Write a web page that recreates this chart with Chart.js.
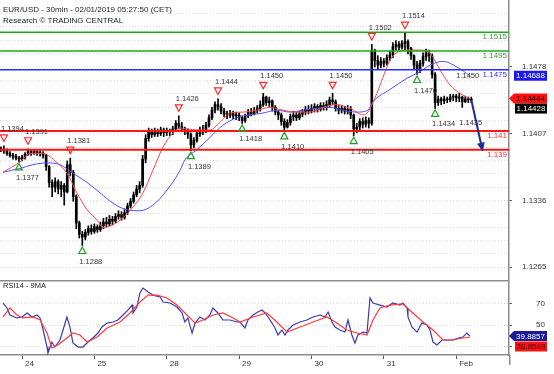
<!DOCTYPE html>
<html>
<head>
<meta charset="utf-8">
<script src="https://cdn.jsdelivr.net/npm/chart.js@4.4.1/dist/chart.umd.min.js"></script>
<style>
  html, body { margin: 0; padding: 0; background: #fff; }
  #wrap { position: relative; width: 554px; height: 374px; overflow: hidden; }
  #main { position: absolute; left: 0; top: 0; }
  #rsi { position: absolute; left: 0; top: 280px; }
</style>
</head>
<body>
<div id="wrap">
  <canvas id="main" width="554" height="280"></canvas>
  <canvas id="rsi" width="554" height="94"></canvas>
</div>
<script>
// x axis: trading hours counted from 24 Jan 00:00 (weekend skipped)
const dayTicks = [0, 24, 48, 72, 96, 120, 144];
const dayLabels = ['24', '25', '28', '29', '30', '31', 'Feb'];
const hourMin = -7.3, hourMax = 161.5;

// price axis
const priceTicks = [1.1265, 1.1336, 1.1407, 1.1478];
const priceGridStep = 0.00142;
const priceMin = 1.12513, priceMax = 1.15493;

// rsi axis
const rsiTicks = [30, 50, 70];
const rsiMin = 22.35, rsiMax = 91.5;

// hourly candles, first one at hour -7
const firstHour = -7;
const firstOpen = 1.1391;
const closes = [
  1.1390,1.1389,1.1386,1.1384,1.1383,1.1381,1.1380,1.1382,1.1385,1.1388,
  1.1387,1.1388,1.1387,1.1386,1.1384,1.1372,1.1355,1.1350,1.1356,1.1348,
  1.1352,1.1345,1.1374,1.1366,1.1340,1.1312,1.1300,1.1297,1.1302,1.1306,
  1.1303,1.1308,1.1305,1.1309,1.1313,1.1311,1.1316,1.1314,1.1319,1.1321,
  1.1318,1.1323,1.1330,1.1335,1.1342,1.1348,1.1352,1.1380,1.1402,1.1409,
  1.1406,1.1410,1.1407,1.1411,1.1408,1.1410,1.1409,1.1412,1.1418,1.1415,
  1.1412,1.1410,1.1406,1.1395,1.1400,1.1407,1.1411,1.1410,1.1416,1.1424,
  1.1432,1.1438,1.1436,1.1431,1.1428,1.1427,1.1429,1.1426,1.1427,1.1424,
  1.1421,1.1426,1.1430,1.1428,1.1432,1.1434,1.1438,1.1446,1.1440,1.1442,
  1.1435,1.1430,1.1427,1.1420,1.1414,1.1419,1.1425,1.1427,1.1424,1.1428,
  1.1430,1.1433,1.1431,1.1434,1.1436,1.1433,1.1437,1.1435,1.1438,1.1443,
  1.1441,1.1434,1.1432,1.1434,1.1431,1.1433,1.1427,1.1412,1.1414,1.1420,
  1.1417,1.1421,1.1418,1.1495,1.1485,1.1480,1.1484,1.1482,1.1488,1.1491,
  1.1500,1.1502,1.1499,1.1503,1.1505,1.1498,1.1490,1.1480,1.1475,1.1482,
  1.1489,1.1493,1.1490,1.1470,1.1440,1.1444,1.1442,1.1444,1.1443,1.1446,
  1.1447,1.1445,1.1446,1.1441,1.1444,1.1443,1.14428
];
const highs = [
  1.1393,1.1394,1.1391,1.1388,1.1386,1.1385,1.1383,1.1384,1.1387,1.1391,
  1.1390,1.1390,1.1389,1.1389,1.1388,1.1385,1.1373,1.1358,1.1360,1.1358,
  1.1356,1.1354,1.1378,1.1381,1.1368,1.1342,1.1314,1.1303,1.1305,1.1309,
  1.1310,1.1311,1.1310,1.1313,1.1317,1.1318,1.1320,1.1319,1.1322,1.1325,
  1.1324,1.1327,1.1333,1.1338,1.1345,1.1352,1.1356,1.1384,1.1406,1.1413,
  1.1412,1.1413,1.1412,1.1414,1.1413,1.1413,1.1412,1.1415,1.1421,1.1426,
  1.1419,1.1414,1.1412,1.1408,1.1403,1.1410,1.1414,1.1416,1.1419,1.1427,
  1.1435,1.1441,1.1444,1.1439,1.1434,1.1431,1.1432,1.1431,1.1430,1.1429,
  1.1426,1.1428,1.1433,1.1434,1.1435,1.1437,1.1442,1.1450,1.1447,1.1446,
  1.1443,1.1437,1.1432,1.1429,1.1423,1.1422,1.1428,1.1431,1.1430,1.1431,
  1.1433,1.1436,1.1437,1.1438,1.1439,1.1438,1.1440,1.1440,1.1442,1.1446,
  1.1450,1.1443,1.1437,1.1437,1.1436,1.1437,1.1436,1.1428,1.1418,1.1423,
  1.1424,1.1425,1.1424,1.1502,1.1497,1.1490,1.1488,1.1487,1.1491,1.1495,
  1.1504,1.1506,1.1505,1.1506,1.1514,1.1507,1.1499,1.1491,1.1484,1.1485,
  1.1493,1.1497,1.1496,1.1492,1.1472,1.1447,1.1446,1.1447,1.1446,1.1449,
  1.1449,1.1449,1.1450,1.1447,1.1447,1.1446,1.1446
];
const lows = [
  1.1388,1.1386,1.1384,1.1382,1.1380,1.1379,1.1377,1.1378,1.1380,1.1384,
  1.1384,1.1385,1.1384,1.1383,1.1381,1.1368,1.1350,1.1340,1.1345,1.1343,
  1.1340,1.1331,1.1344,1.1362,1.1335,1.1306,1.1296,1.1288,1.1294,1.1299,
  1.1300,1.1301,1.1302,1.1303,1.1306,1.1308,1.1309,1.1310,1.1312,1.1316,
  1.1315,1.1316,1.1321,1.1328,1.1333,1.1340,1.1344,1.1350,1.1376,1.1399,
  1.1403,1.1404,1.1404,1.1405,1.1404,1.1405,1.1405,1.1406,1.1410,1.1412,
  1.1409,1.1406,1.1402,1.1389,1.1392,1.1398,1.1404,1.1406,1.1408,1.1414,
  1.1422,1.1429,1.1432,1.1428,1.1425,1.1423,1.1424,1.1423,1.1422,1.1421,
  1.1418,1.1419,1.1424,1.1426,1.1427,1.1429,1.1431,1.1436,1.1437,1.1436,
  1.1431,1.1427,1.1422,1.1416,1.1410,1.1413,1.1416,1.1421,1.1421,1.1422,
  1.1425,1.1427,1.1428,1.1429,1.1430,1.1430,1.1431,1.1432,1.1432,1.1435,
  1.1438,1.1431,1.1428,1.1429,1.1428,1.1428,1.1423,1.1405,1.1408,1.1411,
  1.1413,1.1414,1.1413,1.1416,1.1478,1.1476,1.1477,1.1478,1.1480,1.1485,
  1.1488,1.1496,1.1496,1.1497,1.1496,1.1492,1.1486,1.1476,1.1470,1.1472,
  1.1479,1.1485,1.1484,1.1466,1.1434,1.1437,1.1438,1.1439,1.1440,1.1441,
  1.1442,1.1441,1.1441,1.1435,1.1440,1.1440,1.1440
];

// moving averages on price
const redMaHours = [-6.3,-0.7,2.7,7.0,11.6,14.9,18.2,21.6,24.9,26.9,32.5,36.8,40.1,43.4,46.8,50.1,52.4,58.0,62.3,65.6,69.0,73.3,77.9,82.2,86.5,91.2,95.5,99.8,104.4,108.8,113.1,114.7,117.7,119.7,122.0,124.7,128.6,132.0,134.3,136.3,138.6,141.9,145.2,148.5];
const redMaValues = [1.1366,1.1377,1.1386,1.1386,1.1376,1.1365,1.1344,1.1326,1.1315,1.1307,1.1315,1.1329,1.1344,1.1368,1.1393,1.1408,1.1413,1.1411,1.1411,1.1419,1.1429,1.1430,1.1432,1.1435,1.1432,1.1430,1.1430,1.1435,1.1438,1.1434,1.1427,1.1430,1.1450,1.1467,1.1485,1.1494,1.1496,1.1496,1.1495,1.1488,1.1475,1.1459,1.1450,1.14444];
const blueMaHours = [-6.3,-0.7,3.6,8.3,12.6,16.9,21.6,25.9,30.2,34.8,39.1,43.4,48.1,52.4,54.0,58.0,62.3,66.6,71.3,75.6,79.9,84.5,88.9,93.2,97.8,102.1,106.4,111.1,114.7,116.4,122.0,127.7,132.0,135.3,139.6,144.2,148.5];
const blueMaValues = [1.1366,1.1370,1.1374,1.1376,1.1374,1.1365,1.1355,1.1344,1.1333,1.1326,1.1325,1.1331,1.1347,1.1368,1.1379,1.1390,1.1403,1.1416,1.1424,1.1427,1.1429,1.1432,1.1430,1.1432,1.1434,1.1435,1.1432,1.1430,1.1432,1.1441,1.1454,1.1466,1.1473,1.1480,1.1484,1.1478,1.14688];

// key levels
const levelPrices = [1.1515, 1.1495, 1.1475, 1.141, 1.139];
const levelLabels = ['1.1515', '1.1495', '1.1475', '1.141', '1.139'];
const levelKinds = ['green', 'green', 'blue', 'red', 'red'];

// swing highs / lows (H/L with marker, h/l text only)
const pivotHours = [-6, 2, -1, 16, 20, 52, 56, 65, 73, 80, 87, 103, 110, 116, 127, 131, 137, 145, 146];
const pivotPrices = [1.1394,1.1391,1.1377,1.1381,1.1288,1.1426,1.1389,1.1444,1.1418,1.1450,1.1410,1.1450,1.1405,1.1502,1.1514,1.1470,1.1434,1.1450,1.1435];
const pivotKinds = ['H','H','L','H','L','H','L','H','L','H','L','H','L','H','H','L','L','h','l'];

// projected move
const projHours = [149, 152.8];
const projPrices = [1.14428, 1.1388];

// RSI14 and its 9MA
const rsiHours = [-6.3,-5.0,-4.0,-1.7,0,1.7,3.3,5.0,6.0,7.0,8.3,8.6,9.9,10.9,12.6,13.6,14.9,15.9,16.9,18.6,20.2,21.9,23.5,25.2,26.5,28.2,30.2,31.8,33.5,35.1,36.5,36.8,38.1,39.1,40.1,41.8,43.4,45.8,46.8,49.1,51.4,53.1,54.0,55.0,56.4,57.4,59.0,60.7,62.3,63.3,65.0,66.6,69.0,71.3,72.3,73.9,74.9,76.6,78.2,79.6,80.6,81.6,82.9,83.9,84.9,86.2,87.2,88.2,89.9,92.2,94.5,96.5,98.8,100.5,101.5,102.8,103.8,105.4,107.1,108.1,109.4,110.4,111.4,113.1,114.4,115.4,116.4,118.7,121.0,123.0,125.3,126.3,127.7,128.0,129.3,131.0,132.6,134.3,135.3,136.3,137.6,139.3,140.9,142.9,144.6,146.2,147.5,148.5];
const rsiValues = [70.3,65.7,59.2,56.5,57.4,61.1,57.4,59.2,56.5,45.4,29.7,24.2,34.3,29.7,36.2,45.4,57.4,48.2,33.4,29.7,29.7,34.3,38.0,42.6,48.2,51.8,52.8,54.6,59.2,63.8,68.4,61.1,66.6,79.5,84.1,80.4,77.6,75.8,71.2,70.3,66.6,61.1,52.8,56.5,42.6,51.8,57.4,54.6,59.2,65.7,61.1,54.6,54.6,52.8,52.8,47.2,54.6,59.2,62.0,63.8,61.1,57.4,51.8,47.2,40.8,45.4,40.8,45.4,50.0,52.8,54.6,57.4,59.2,57.4,62.0,52.8,48.2,45.4,43.5,54.6,40.8,33.4,40.8,43.5,42.6,74.9,70.3,68.4,66.6,70.3,68.4,70.3,65.7,57.4,48.2,43.5,51.8,50.0,45.4,34.3,31.6,36.2,36.2,36.2,38.0,38.9,42.6,39.8857];
const rsiMaHours = [-6.3,-4.0,-1.7,0.3,3.6,6.0,8.3,9.9,11.9,14.9,16.9,19.2,21.6,24.9,28.2,32.5,35.8,39.1,41.8,44.8,48.1,51.4,54.7,57.4,60.0,63.3,66.6,70.0,72.3,76.6,81.2,84.5,87.9,92.2,96.5,101.1,104.4,107.7,111.1,114.4,116.4,118.7,122.0,126.3,129.6,133.0,136.3,139.6,142.9,146.2,148.5];
const rsiMaValues = [57.4,65.7,59.2,56.5,57.4,54.6,42.6,28.8,31.6,38.0,42.6,40.8,34.3,38.9,47.2,52.8,61.1,71.2,77.6,77.6,74.9,68.4,59.2,51.8,54.6,59.2,61.1,56.5,52.8,57.4,61.1,52.8,43.5,48.2,52.8,57.4,51.8,45.4,42.6,40.8,54.6,65.7,68.4,69.4,61.1,52.8,45.4,36.2,36.2,38.0,38.8549];

const FONT = "'Liberation Sans', Arial, sans-serif";
Chart.defaults.font.family = FONT;
Chart.defaults.font.size = 8;
Chart.defaults.color = '#333';

const levelStyle = {
  green: {line: '#1ea81e', text: '#3f9a3f', width: 1.5},
  blue: {line: '#2b2bff', text: '#3333ee', width: 1.6},
  red: {line: '#ff1414', text: '#ff3030', width: 2}
};

const opens = [firstOpen].concat(closes.slice(0, -1));
const hours = closes.map((c, i) => firstHour + i);
const pts = (xs, ys) => xs.map((x, i) => ({x: x, y: ys[i]}));

function isMajor(v){
  return priceTicks.some(p => Math.abs(p - v) < 1e-7);
}

function box(ctx, x0, x1, cy, fill, color, text, arrow){
  const h = 10;
  ctx.beginPath();
  if(arrow){
    ctx.moveTo(x0 - 5, cy);
    ctx.lineTo(x0, cy - h / 2);
  }else{
    ctx.moveTo(x0, cy - h / 2);
  }
  ctx.lineTo(x1, cy - h / 2);
  ctx.lineTo(x1, cy + h / 2);
  ctx.lineTo(x0, cy + h / 2);
  ctx.closePath();
  ctx.fillStyle = fill;
  ctx.fill();
  ctx.fillStyle = color;
  ctx.font = '8px ' + FONT;
  ctx.textAlign = 'center';
  ctx.textBaseline = 'middle';
  ctx.fillText(text, (x0 + x1) / 2, cy + 0.5);
}

function triangle(ctx, cx, cy, down, color){
  ctx.beginPath();
  if(down){
    ctx.moveTo(cx - 3.5, cy - 3);
    ctx.lineTo(cx + 3.5, cy - 3);
    ctx.lineTo(cx, cy + 3.5);
  }else{
    ctx.moveTo(cx - 3.5, cy + 3);
    ctx.lineTo(cx + 3.5, cy + 3);
    ctx.lineTo(cx, cy - 3.5);
  }
  ctx.closePath();
  ctx.strokeStyle = color;
  ctx.lineWidth = 1.2;
  ctx.stroke();
}

const mainOverlay = {
  id: 'mainOverlay',
  afterDatasetsDraw(chart){
    const {ctx, chartArea: a, scales: {x, y}} = chart;
    ctx.save();
    // key levels
    levelPrices.forEach((p, i) => {
      const st = levelStyle[levelKinds[i]];
      const py = y.getPixelForValue(p);
      ctx.strokeStyle = st.line;
      ctx.lineWidth = st.width;
      ctx.beginPath();
      ctx.moveTo(a.left, py);
      ctx.lineTo(a.right, py);
      ctx.stroke();
      ctx.fillStyle = st.text;
      ctx.font = '8px ' + FONT;
      ctx.textAlign = 'right';
      ctx.textBaseline = 'middle';
      ctx.fillText(levelLabels[i], a.right - 2, py + 5);
    });
    // pivots
    ctx.font = '7.5px ' + FONT;
    ctx.textAlign = 'left';
    ctx.textBaseline = 'middle';
    pivotHours.forEach((h, i) => {
      const px = x.getPixelForValue(h);
      const py = y.getPixelForValue(pivotPrices[i]);
      const k = pivotKinds[i];
      const high = k === 'H' || k === 'h';
      if(k === 'H') triangle(ctx, px, py - 8, true, '#ff2a2a');
      if(k === 'L') triangle(ctx, px, py + 5, false, '#22a022');
      ctx.fillStyle = '#333';
      ctx.fillText(pivotPrices[i].toFixed(4), px - 3, high ? py - 17 : py + 16);
    });
    // projection arrow
    const x0 = x.getPixelForValue(projHours[0]), y0 = y.getPixelForValue(projPrices[0]);
    const x1 = x.getPixelForValue(projHours[1]), y1 = y.getPixelForValue(projPrices[1]);
    const ang = Math.atan2(y1 - y0, x1 - x0);
    ctx.strokeStyle = '#1e2e90';
    ctx.fillStyle = '#1e2e90';
    ctx.lineWidth = 2;
    ctx.beginPath();
    ctx.moveTo(x0, y0);
    ctx.lineTo(x1 - 6 * Math.cos(ang), y1 - 6 * Math.sin(ang));
    ctx.stroke();
    ctx.beginPath();
    ctx.moveTo(x1, y1);
    ctx.lineTo(x1 - 9 * Math.cos(ang) + 4 * Math.sin(ang), y1 - 9 * Math.sin(ang) - 4 * Math.cos(ang));
    ctx.lineTo(x1 - 9 * Math.cos(ang) - 4 * Math.sin(ang), y1 - 9 * Math.sin(ang) + 4 * Math.cos(ang));
    ctx.closePath();
    ctx.fill();
    ctx.restore();
  },
  afterDraw(chart){
    const {ctx, chartArea: a, scales: {y}} = chart;
    ctx.save();
    ctx.fillStyle = '#222';
    ctx.font = '8px ' + FONT;
    ctx.textAlign = 'left';
    ctx.textBaseline = 'middle';
    ctx.fillText('EUR/USD - 30min - 02/01/2019 05:27:50 (CET)', 3, 10);
    ctx.fillText('Research \u00a9 TRADING CENTRAL', 3, 20.5);
    // last values on the price axis
    const blueY = y.getPixelForValue(blueMaValues[blueMaValues.length - 1]);
    const redY = y.getPixelForValue(redMaValues[redMaValues.length - 1]);
    let closeY = y.getPixelForValue(closes[closes.length - 1]);
    if(Math.abs(closeY - redY) < 10) closeY = redY + 10;
    box(ctx, a.right + 5, a.right + 38, blueY, '#1a1aee', '#fff', blueMaValues[blueMaValues.length - 1].toFixed(5), false);
    box(ctx, a.right + 5, a.right + 38, redY, '#ff1010', '#200', redMaValues[redMaValues.length - 1].toFixed(5), true);
    box(ctx, a.right + 6, a.right + 38, closeY, '#000', '#fff', closes[closes.length - 1].toFixed(5), false);
    ctx.restore();
  }
};

new Chart(document.getElementById('main'), {
  type: 'bar',
  data: {
    datasets: [
      {type: 'line', data: pts(redMaHours, redMaValues), borderColor: '#ff4545', borderWidth: 1, pointRadius: 0, cubicInterpolationMode: 'monotone', order: 0},
      {type: 'line', data: pts(blueMaHours, blueMaValues), borderColor: '#5050ff', borderWidth: 1, pointRadius: 0, cubicInterpolationMode: 'monotone', order: 0},
      {type: 'bar', data: hours.map((h, i) => ({x: h, y: [lows[i], highs[i]]})), backgroundColor: '#000', barThickness: 1, grouped: false, order: 2},
      {type: 'bar', data: hours.map((h, i) => ({x: h, y: [opens[i], closes[i]]})), backgroundColor: '#000', barThickness: 2, minBarLength: 1, grouped: false, order: 1}
    ]
  },
  options: {
    responsive: false,
    animation: false,
    events: [],
    layout: {padding: 0},
    plugins: {legend: {display: false}, tooltip: {enabled: false}},
    scales: {
      x: {type: 'linear', min: hourMin, max: hourMax, display: false, offset: false},
      y: {
        type: 'linear', position: 'right', min: priceMin, max: priceMax,
        afterBuildTicks(s){
          const t = [];
          for(let k = 0; k < 20; k++) t.push({value: priceTicks[0] + k * priceGridStep});
          s.ticks = t;
        },
        afterFit(s){ s.width = 45; s.paddingTop = 0; s.paddingBottom = 0; },
        grid: {color: '#dcdcdc', tickLength: 3, tickColor: c => isMajor(c.tick.value) ? '#555' : 'rgba(0,0,0,0)'},
        border: {color: '#8c8c8c', width: 1.5, dash: [1, 2]},
        ticks: {padding: 10, color: '#333', font: {size: 8}, callback: v => isMajor(v) ? v.toFixed(4) : ''}
      }
    }
  },
  plugins: [mainOverlay]
});

const rsiOverlay = {
  id: 'rsiOverlay',
  afterDraw(chart){
    const {ctx, chartArea: a, scales: {y}} = chart;
    ctx.save();
    ctx.strokeStyle = '#8c8c8c';
    ctx.lineWidth = 1.5;
    ctx.beginPath();
    ctx.moveTo(0, a.top + 0.75);
    ctx.lineTo(a.right, a.top + 0.75);
    ctx.moveTo(a.right + 0.75, a.bottom);
    ctx.lineTo(a.right + 0.75, a.bottom + 10);
    ctx.stroke();
    ctx.fillStyle = '#222';
    ctx.font = '7.5px ' + FONT;
    ctx.textAlign = 'left';
    ctx.textBaseline = 'middle';
    ctx.fillText('RSI14 - 9MA', 3, 6);
    const rsiLast = rsiValues[rsiValues.length - 1];
    const maLast = rsiMaValues[rsiMaValues.length - 1];
    const ry = y.getPixelForValue(rsiLast);
    let my = y.getPixelForValue(maLast);
    if(Math.abs(my - ry) < 10) my = ry + 10.5;
    box(ctx, a.right + 5, a.right + 38, ry, '#1a1a9a', '#fff', rsiLast.toFixed(4), true);
    box(ctx, a.right + 6, a.right + 38, my, '#ff1010', '#200', maLast.toFixed(4), false);
    ctx.restore();
  }
};

new Chart(document.getElementById('rsi'), {
  type: 'line',
  data: {
    datasets: [
      {data: pts(rsiMaHours, rsiMaValues), borderColor: '#ff3b3b', borderWidth: 1.2, pointRadius: 0, tension: 0},
      {data: pts(rsiHours, rsiValues), borderColor: '#3a3ab2', borderWidth: 1.2, pointRadius: 0, tension: 0}
    ]
  },
  options: {
    responsive: false,
    animation: false,
    events: [],
    layout: {padding: 0},
    plugins: {legend: {display: false}, tooltip: {enabled: false}},
    scales: {
      x: {
        type: 'linear', min: hourMin, max: hourMax,
        afterBuildTicks(s){ s.ticks = dayTicks.map(v => ({value: v})); },
        afterFit(s){ s.height = 19; s.paddingLeft = 0; s.paddingRight = 0; },
        grid: {drawOnChartArea: false, tickLength: 4, tickColor: '#555'},
        border: {color: '#8c8c8c', width: 1.5},
        ticks: {align: 'start', labelOffset: 3, padding: 0, maxRotation: 0, autoSkip: false, color: '#333', font: {size: 8},
          callback: (v, i) => dayLabels[i]}
      },
      y: {
        type: 'linear', position: 'right', min: rsiMin, max: rsiMax,
        afterBuildTicks(s){ s.ticks = rsiTicks.map(v => ({value: v})); },
        afterFit(s){ s.width = 45; s.paddingTop = 0; s.paddingBottom = 0; },
        grid: {color: '#dcdcdc', tickLength: 3, tickColor: '#555'},
        border: {color: '#8c8c8c', width: 1.5, dash: [1, 2]},
        ticks: {padding: 24, color: '#333', font: {size: 8}}
      }
    }
  },
  plugins: [rsiOverlay]
});
</script>
</body>
</html>
